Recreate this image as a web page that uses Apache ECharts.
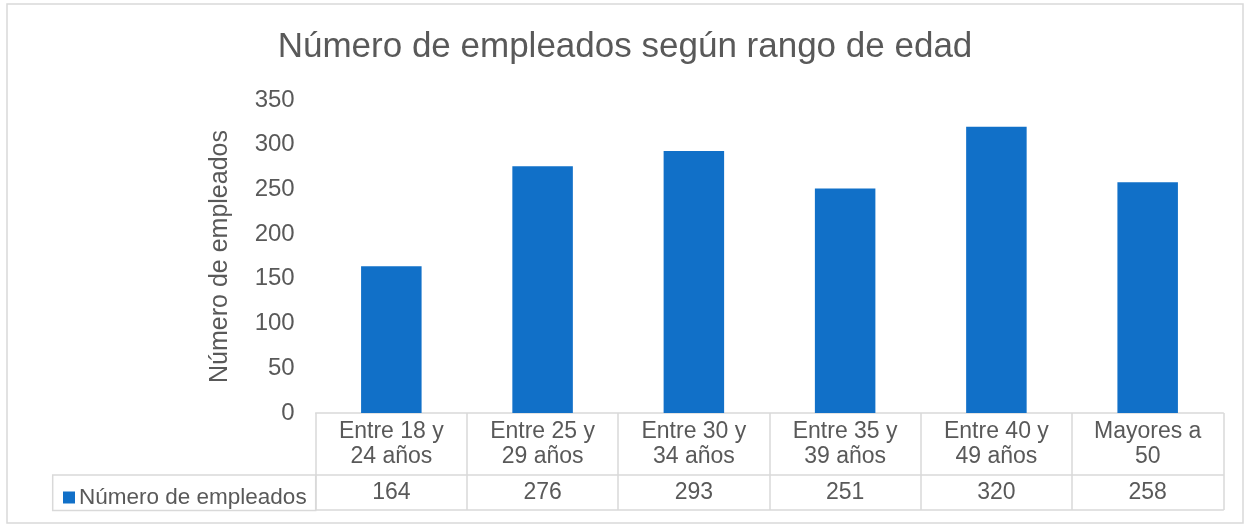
<!DOCTYPE html>
<html>
<head>
<meta charset="utf-8">
<script src="https://cdn.jsdelivr.net/npm/echarts@6/dist/echarts.min.js"></script>
<style>
  html, body { margin: 0; padding: 0; background: #fff; }
  #chart { width: 1250px; height: 525px; }
</style>
</head>
<body>
<div id="chart"></div>
<script>
const categories = [
  "Entre 18 y\n24 años",
  "Entre 25 y\n29 años",
  "Entre 30 y\n34 años",
  "Entre 35 y\n39 años",
  "Entre 40 y\n49 años",
  "Mayores a\n50",
];
const employees = [164, 276, 293, 251, 320, 258];
const yTicks = { min: 0, max: 350, interval: 50 };

const seriesName = "Número de empleados";
const textColor = "#595959";
const lineColor = "#d9d9d9";
const barColor = "#1170c8";
const fontFamily = "'Liberation Sans', Arial, sans-serif";

const chart = echarts.init(document.getElementById("chart"), null, { renderer: "canvas" });

chart.setOption({
  animation: false,
  backgroundColor: "#fff",
  textStyle: { fontFamily },
  title: {
    text: "Número de empleados según rango de edad",
    left: "center",
    top: 25,
    textStyle: { fontSize: 35, fontWeight: "normal", color: textColor, fontFamily },
  },
  legend: {
    data: [seriesName],
    left: 58,
    top: 481,
    icon: "rect",
    itemWidth: 12,
    itemHeight: 12,
    itemGap: 6,
    textStyle: { fontSize: 22.5, color: textColor, fontFamily, padding: [0, 0, 0, -1] },
  },
  grid: { left: 315.7, right: 26.7, top: 100, bottom: 112, containLabel: false },
  xAxis: [
    {
      type: "category",
      data: categories,
      axisLine: { lineStyle: { color: lineColor, width: 1.5 } },
      axisTick: { show: true, length: 97, lineStyle: { color: lineColor, width: 1.5 } },
      axisLabel: { interval: 0, fontSize: 23, lineHeight: 25, margin: 6, color: textColor },
    },
    {
      type: "category",
      data: employees.map(String),
      position: "bottom",
      offset: 62,
      axisLine: { lineStyle: { color: lineColor, width: 1.5 } },
      axisTick: { show: false },
      axisLabel: { interval: 0, fontSize: 23, lineHeight: 24, margin: 6, color: textColor },
    },
    {
      type: "category",
      data: categories,
      position: "bottom",
      offset: 97,
      axisLine: { lineStyle: { color: lineColor, width: 1.5 } },
      axisTick: { show: false },
      axisLabel: { show: false },
    },
  ],
  yAxis: {
    type: "value",
    min: yTicks.min,
    max: yTicks.max,
    interval: yTicks.interval,
    axisLine: { show: false },
    axisTick: { show: false },
    splitLine: { show: false },
    axisLabel: { fontSize: 24, color: textColor, margin: 21 },
    name: "Número de empleados",
    nameLocation: "middle",
    nameGap: 83,
    nameTextStyle: { fontSize: 25, color: textColor },
  },
  graphic: [
    {
      type: "rect",
      shape: { x: 7, y: 4, width: 1236, height: 519 },
      style: { fill: "none", stroke: lineColor, lineWidth: 1.5 },
      silent: true,
    },
    {
      type: "rect",
      shape: { x: 52.7, y: 475, width: 263, height: 35.5 },
      style: { fill: "none", stroke: lineColor, lineWidth: 1.5 },
      silent: true,
    },
  ],
  series: [
    {
      name: seriesName,
      type: "bar",
      data: employees,
      barWidth: "40%",
      itemStyle: { color: barColor },
    },
  ],
});

window.addEventListener("resize", () => chart.resize());
</script>
</body>
</html>
